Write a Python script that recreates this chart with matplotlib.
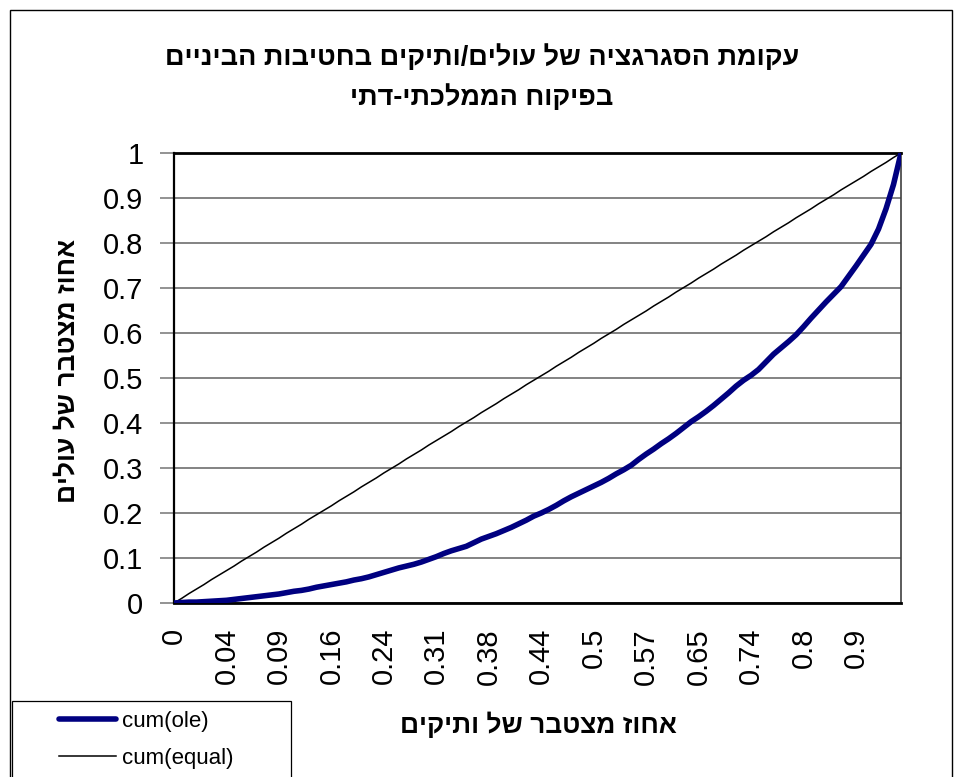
import matplotlib
matplotlib.use("Agg")
import matplotlib.pyplot as plt
from matplotlib.patches import Rectangle
from matplotlib.lines import Line2D

plt.rcParams["font.family"] = ["Liberation Sans", "DejaVu Sans"]

# Cumulative share of new immigrants (ole) and the equal-distribution reference
cum_ole = [
    0, .001, .002, .002, .003, .004, .005, .006, .008, .010,
    .012, .014, .016, .018, .020, .023, .026, .028, .031, .035,
    .038, .041, .044, .047, .051, .054, .058, .063, .068, .073,
    .078, .082, .086, .091, .097, .103, .110, .116, .121, .126,
    .134, .142, .148, .154, .161, .168, .176, .184, .193, .200,
    .208, .217, .227, .236, .244, .252, .260, .268, .277, .287,
    .296, .306, .319, .331, .342, .354, .365, .377, .390, .403,
    .414, .426, .439, .453, .467, .482, .495, .506, .519, .536,
    .553, .567, .581, .596, .614, .633, .651, .669, .686, .703,
    .726, .749, .773, .797, .831, .876, .930, 1.0,
]
cum_equal = [
    0, .010, .021, .031, .041, .052, .062, .072, .082, .093,
    .103, .113, .124, .134, .144, .155, .165, .175, .186, .196,
    .206, .216, .227, .237, .247, .258, .268, .278, .289, .299,
    .309, .320, .330, .340, .351, .361, .371, .381, .392, .402,
    .412, .423, .433, .443, .454, .464, .474, .485, .495, .505,
    .515, .526, .536, .546, .557, .567, .577, .588, .598, .608,
    .619, .629, .639, .649, .660, .670, .680, .691, .701, .711,
    .722, .732, .742, .753, .763, .773, .784, .794, .804, .814,
    .825, .835, .845, .856, .866, .876, .887, .897, .907, .918,
    .928, .938, .948, .959, .969, .979, .990, 1.0,
]

# Category labels (cumulative share of veterans), shown every 7th category
x_tick_labels = ["0", "0.04", "0.09", "0.16", "0.24", "0.31", "0.38",
                 "0.44", "0.5", "0.57", "0.65", "0.74", "0.8", "0.9"]
x_tick_step = 7
y_ticks = [0, 0.1, 0.2, 0.3, 0.4, 0.5, 0.6, 0.7, 0.8, 0.9, 1.0]
y_tick_labels = ["0", "0.1", "0.2", "0.3", "0.4", "0.5", "0.6", "0.7", "0.8", "0.9", "1"]

title_lines = ["עקומת הסגרגציה של עולים/ותיקים בחטיבות הביניים",
               "בפיקוח הממלכתי-דתי"]
x_label = "אחוז מצטבר של ותיקים"
y_label = "אחוז מצטבר של עולים"
series_names = ["cum(ole)", "cum(equal)"]


def rtl(s):
    # matplotlib lays text out left-to-right; reverse Hebrew for visual order
    return s[::-1]


W, H = 962, 777
fig = plt.figure(figsize=(W / 100, H / 100), dpi=100)
fig.patch.set_facecolor("white")

ax = fig.add_axes([174 / W, 1 - 603 / H, 727 / W, 450 / H])
idx = list(range(len(cum_ole)))
ax.plot(idx, cum_equal, color="black", lw=1.1, zorder=3)
ax.plot(idx, cum_ole, color="#000080", lw=4.0, solid_capstyle="round",
        solid_joinstyle="round", zorder=4)

ax.set_xlim(0, len(cum_ole) - 1)
ax.set_ylim(0, 1)
ax.set_yticks(y_ticks)
ax.set_yticklabels(y_tick_labels)
ax.set_xticks(idx[::x_tick_step][:len(x_tick_labels)])
ax.set_xticklabels(x_tick_labels, rotation=90, va="top", ha="center")

ax.tick_params(axis="y", direction="out", length=10, width=1.2, color="#808080",
               pad=12, labelsize=21)
ax.tick_params(axis="x", length=0, pad=18, labelsize=21)
ax.yaxis.grid(True, color="#6e6e6e", lw=1.2)
ax.set_axisbelow(True)

for side, (c, w) in {"left": ("black", 1.6), "bottom": ("black", 2.0),
                     "top": ("black", 2.0), "right": ("#404040", 1.2)}.items():
    ax.spines[side].set_color(c)
    ax.spines[side].set_linewidth(w)

# Titles and axis titles
fig.text(482 / W, 1 - 58 / H, rtl(title_lines[0]), ha="center", va="center",
         fontsize=19.5, fontweight="bold")
fig.text(482 / W, 1 - 98 / H, rtl(title_lines[1]), ha="center", va="center",
         fontsize=19.5, fontweight="bold")
fig.text(538 / W, 1 - 725 / H, rtl(x_label), ha="center", va="center",
         fontsize=19, fontweight="bold")
fig.text(67 / W, 1 - 371 / H, rtl(y_label), ha="center", va="center",
         rotation=90, fontsize=19, fontweight="bold")

# Legend
handles = [Line2D([], [], color="#000080", lw=4.0, solid_capstyle="round"),
           Line2D([], [], color="black", lw=1.1)]
fig.legend(handles, series_names, loc="upper left",
           bbox_to_anchor=(59 / W, 1 - 711 / H), frameon=False, fontsize=16,
           handlelength=2.55, handletextpad=0.3, labelspacing=0.72,
           borderpad=0, borderaxespad=0)
fig.add_artist(Rectangle((12 / W, -0.1), (291 - 12) / W, (1 - 701 / H) + 0.1,
                         transform=fig.transFigure, fill=False, ec="black", lw=0.9))

# Chart-area border
fig.add_artist(Rectangle((10 / W, -0.1), (952 - 10) / W, (1 - 10 / H) + 0.1,
                         transform=fig.transFigure, fill=False, ec="black", lw=1.0))

fig.savefig("out.png", dpi=100)
